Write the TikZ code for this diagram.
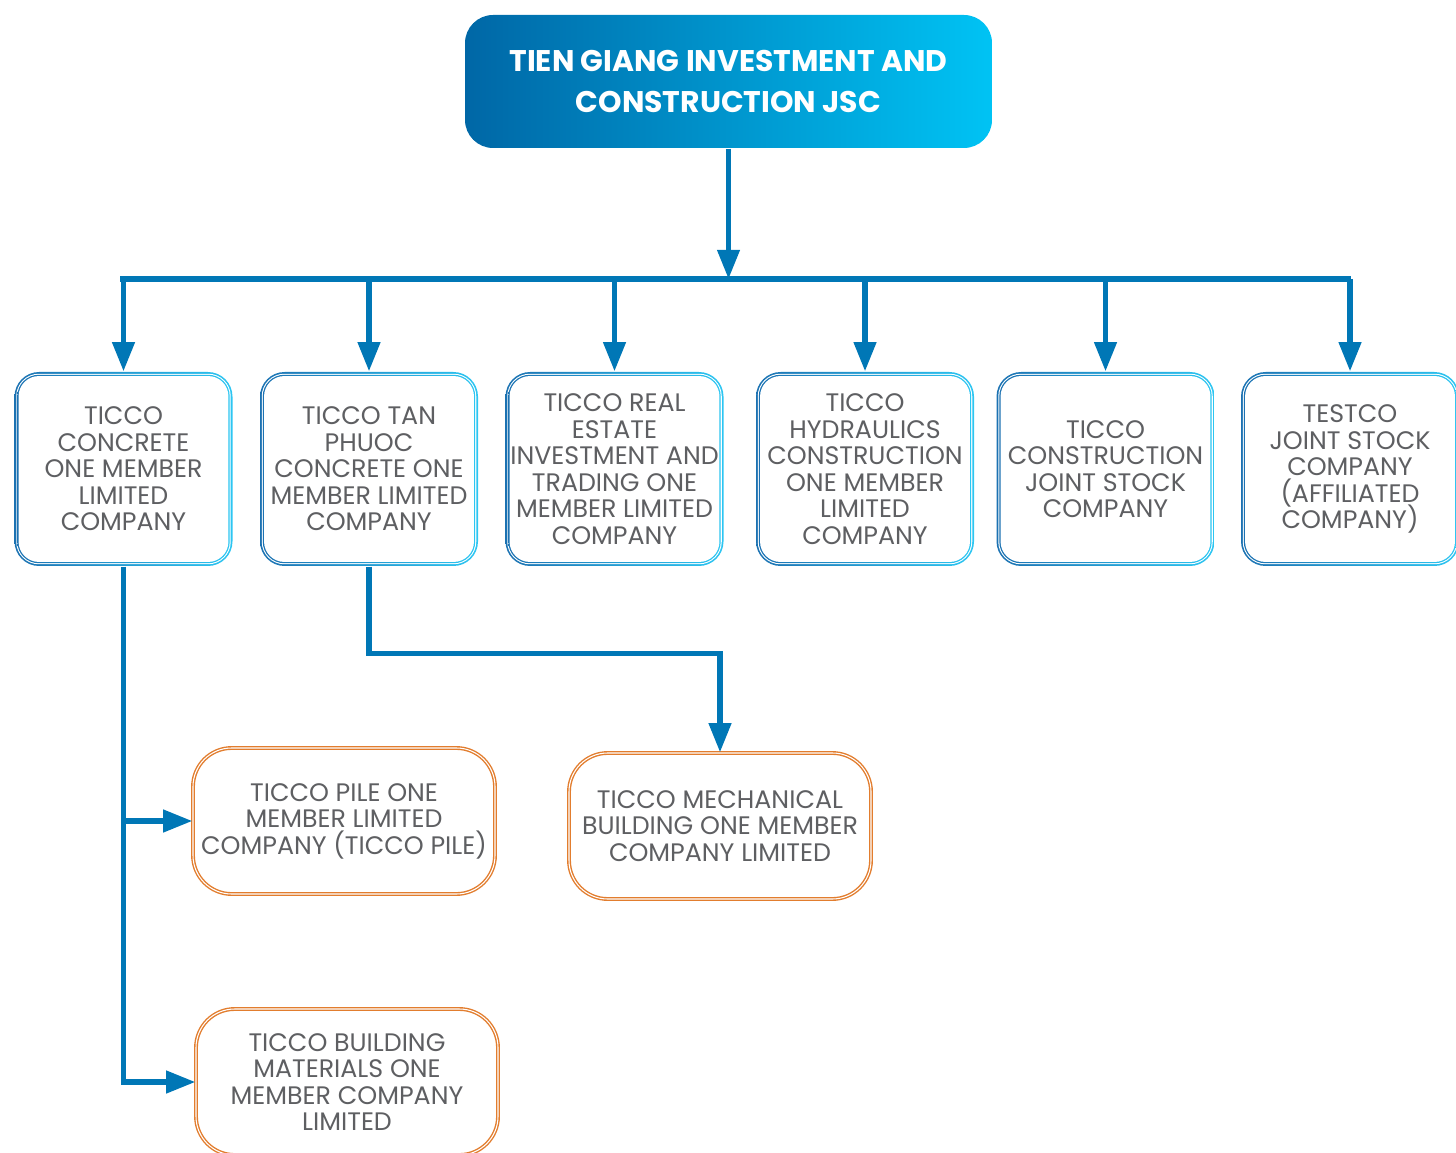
\documentclass[tikz,border=0pt]{standalone}
\usepackage{fontspec}
\setmainfont{Poppins}
\usetikzlibrary{arrows.meta,calc}
\definecolor{tgdark}{HTML}{0067A6}
\definecolor{tgmid}{HTML}{0384C4}
\definecolor{tgcyan}{HTML}{00C3F4}
\definecolor{rimblue}{HTML}{1C72B2}
\definecolor{rimcyan}{HTML}{2CC6F2}
\definecolor{linkblue}{HTML}{0077B6}
\definecolor{rimorange}{HTML}{E27D2E}
\definecolor{txtgray}{HTML}{5E5F62}
\begin{document}
\begin{tikzpicture}
    \tikzstyle{link}=[linkblue,line width=1.45pt]
    \tikzstyle{arr}=[link,-{Triangle[length=8.3pt,width=6.2pt]}]
    \tikzstyle{unit}=[rectangle,rounded corners=7pt,minimum width=2.18cm,minimum height=1.94cm,inner sep=0pt,align=center,text=txtgray,font={\fontsize{7.2}{7.55}\selectfont\lineskiplimit=-10pt},
      path picture={
        \shade[left color=rimblue,right color=rimcyan] (path picture bounding box.south west) rectangle (path picture bounding box.north east);
        \fill[white,rounded corners=6.4pt] ($(path picture bounding box.south west)+(0.5pt,0.5pt)$) rectangle ($(path picture bounding box.north east)-(0.5pt,0.5pt)$);
        \shade[left color=rimblue,right color=rimcyan,rounded corners=6.1pt] ($(path picture bounding box.south west)+(0.8pt,0.8pt)$) rectangle ($(path picture bounding box.north east)-(0.8pt,0.8pt)$);
        \fill[white,rounded corners=5.8pt] ($(path picture bounding box.south west)+(1.15pt,1.15pt)$) rectangle ($(path picture bounding box.north east)-(1.15pt,1.15pt)$);
      }]
    \tikzstyle{subunit}=[rectangle,rounded corners=11pt,minimum width=3.02cm,minimum height=1.46cm,inner sep=0pt,align=center,text=txtgray,font={\fontsize{7.2}{7.55}\selectfont\lineskiplimit=-10pt},draw=rimorange,double=white,double distance=0.3pt,line width=0.4pt]
    \tikzstyle{parent}=[rectangle,rounded corners=8pt,minimum width=5.27cm,minimum height=1.33cm,inner sep=0pt,align=center,left color=tgdark,middle color=tgmid,right color=tgcyan,text=white,font=\fontsize{8.5}{11.4}\selectfont\bfseries]
    \useasboundingbox (0,0) rectangle (14.56,-11.53);
    \node[parent] (jsc) at (7.285,-0.815) {TIEN GIANG INVESTMENT AND\\CONSTRUCTION JSC};
    \node[unit] (concrete) at (1.235,-4.69) {TICCO\\CONCRETE\\ONE MEMBER\\LIMITED\\COMPANY};
    \node[unit] (tanphuoc) at (3.69,-4.69) {TICCO TAN\\PHUOC\\CONCRETE ONE\\MEMBER LIMITED\\COMPANY};
    \node[unit] (realestate) at (6.145,-4.69) {TICCO REAL\\ESTATE\\INVESTMENT AND\\TRADING ONE\\MEMBER LIMITED\\COMPANY};
    \node[unit] (hydraulics) at (8.65,-4.69) {TICCO\\HYDRAULICS\\CONSTRUCTION\\ONE MEMBER\\LIMITED\\COMPANY};
    \node[unit] (construction) at (11.055,-4.69) {TICCO\\CONSTRUCTION\\JOINT STOCK\\COMPANY};
    \node[unit] (testco) at (13.50,-4.69) {TESTCO\\JOINT STOCK\\COMPANY\\(AFFILIATED\\COMPANY)};
    \node[subunit] (pile) at (3.44,-8.21) {TICCO PILE ONE\\MEMBER LIMITED\\COMPANY (TICCO PILE)};
    \node[subunit] (mechanical) at (7.20,-8.26) {TICCO MECHANICAL\\BUILDING ONE MEMBER\\COMPANY LIMITED};
    \node[subunit] (materials) at (3.47,-10.82) {TICCO BUILDING\\MATERIALS ONE\\MEMBER COMPANY\\LIMITED};
    \coordinate (busleft) at (1.20,-2.79);
    \coordinate (busright) at (13.51,-2.79);
    \draw[link] (busleft) -- (busright);
    \draw[arr] (jsc.south) -- (jsc.south |- busleft);
    \foreach \n in {concrete,tanphuoc,realestate,hydraulics,construction,testco}
      \draw[arr] (\n.north |- busleft) -- (\n.north);
    \draw[arr] (concrete.south) |- (materials.west);
    \draw[arr] (concrete.south |- pile.west) -- (pile.west);
    \draw[arr] (tanphuoc.south) -- ++(0,-0.87) -| (mechanical.north);
\end{tikzpicture}
\end{document}
